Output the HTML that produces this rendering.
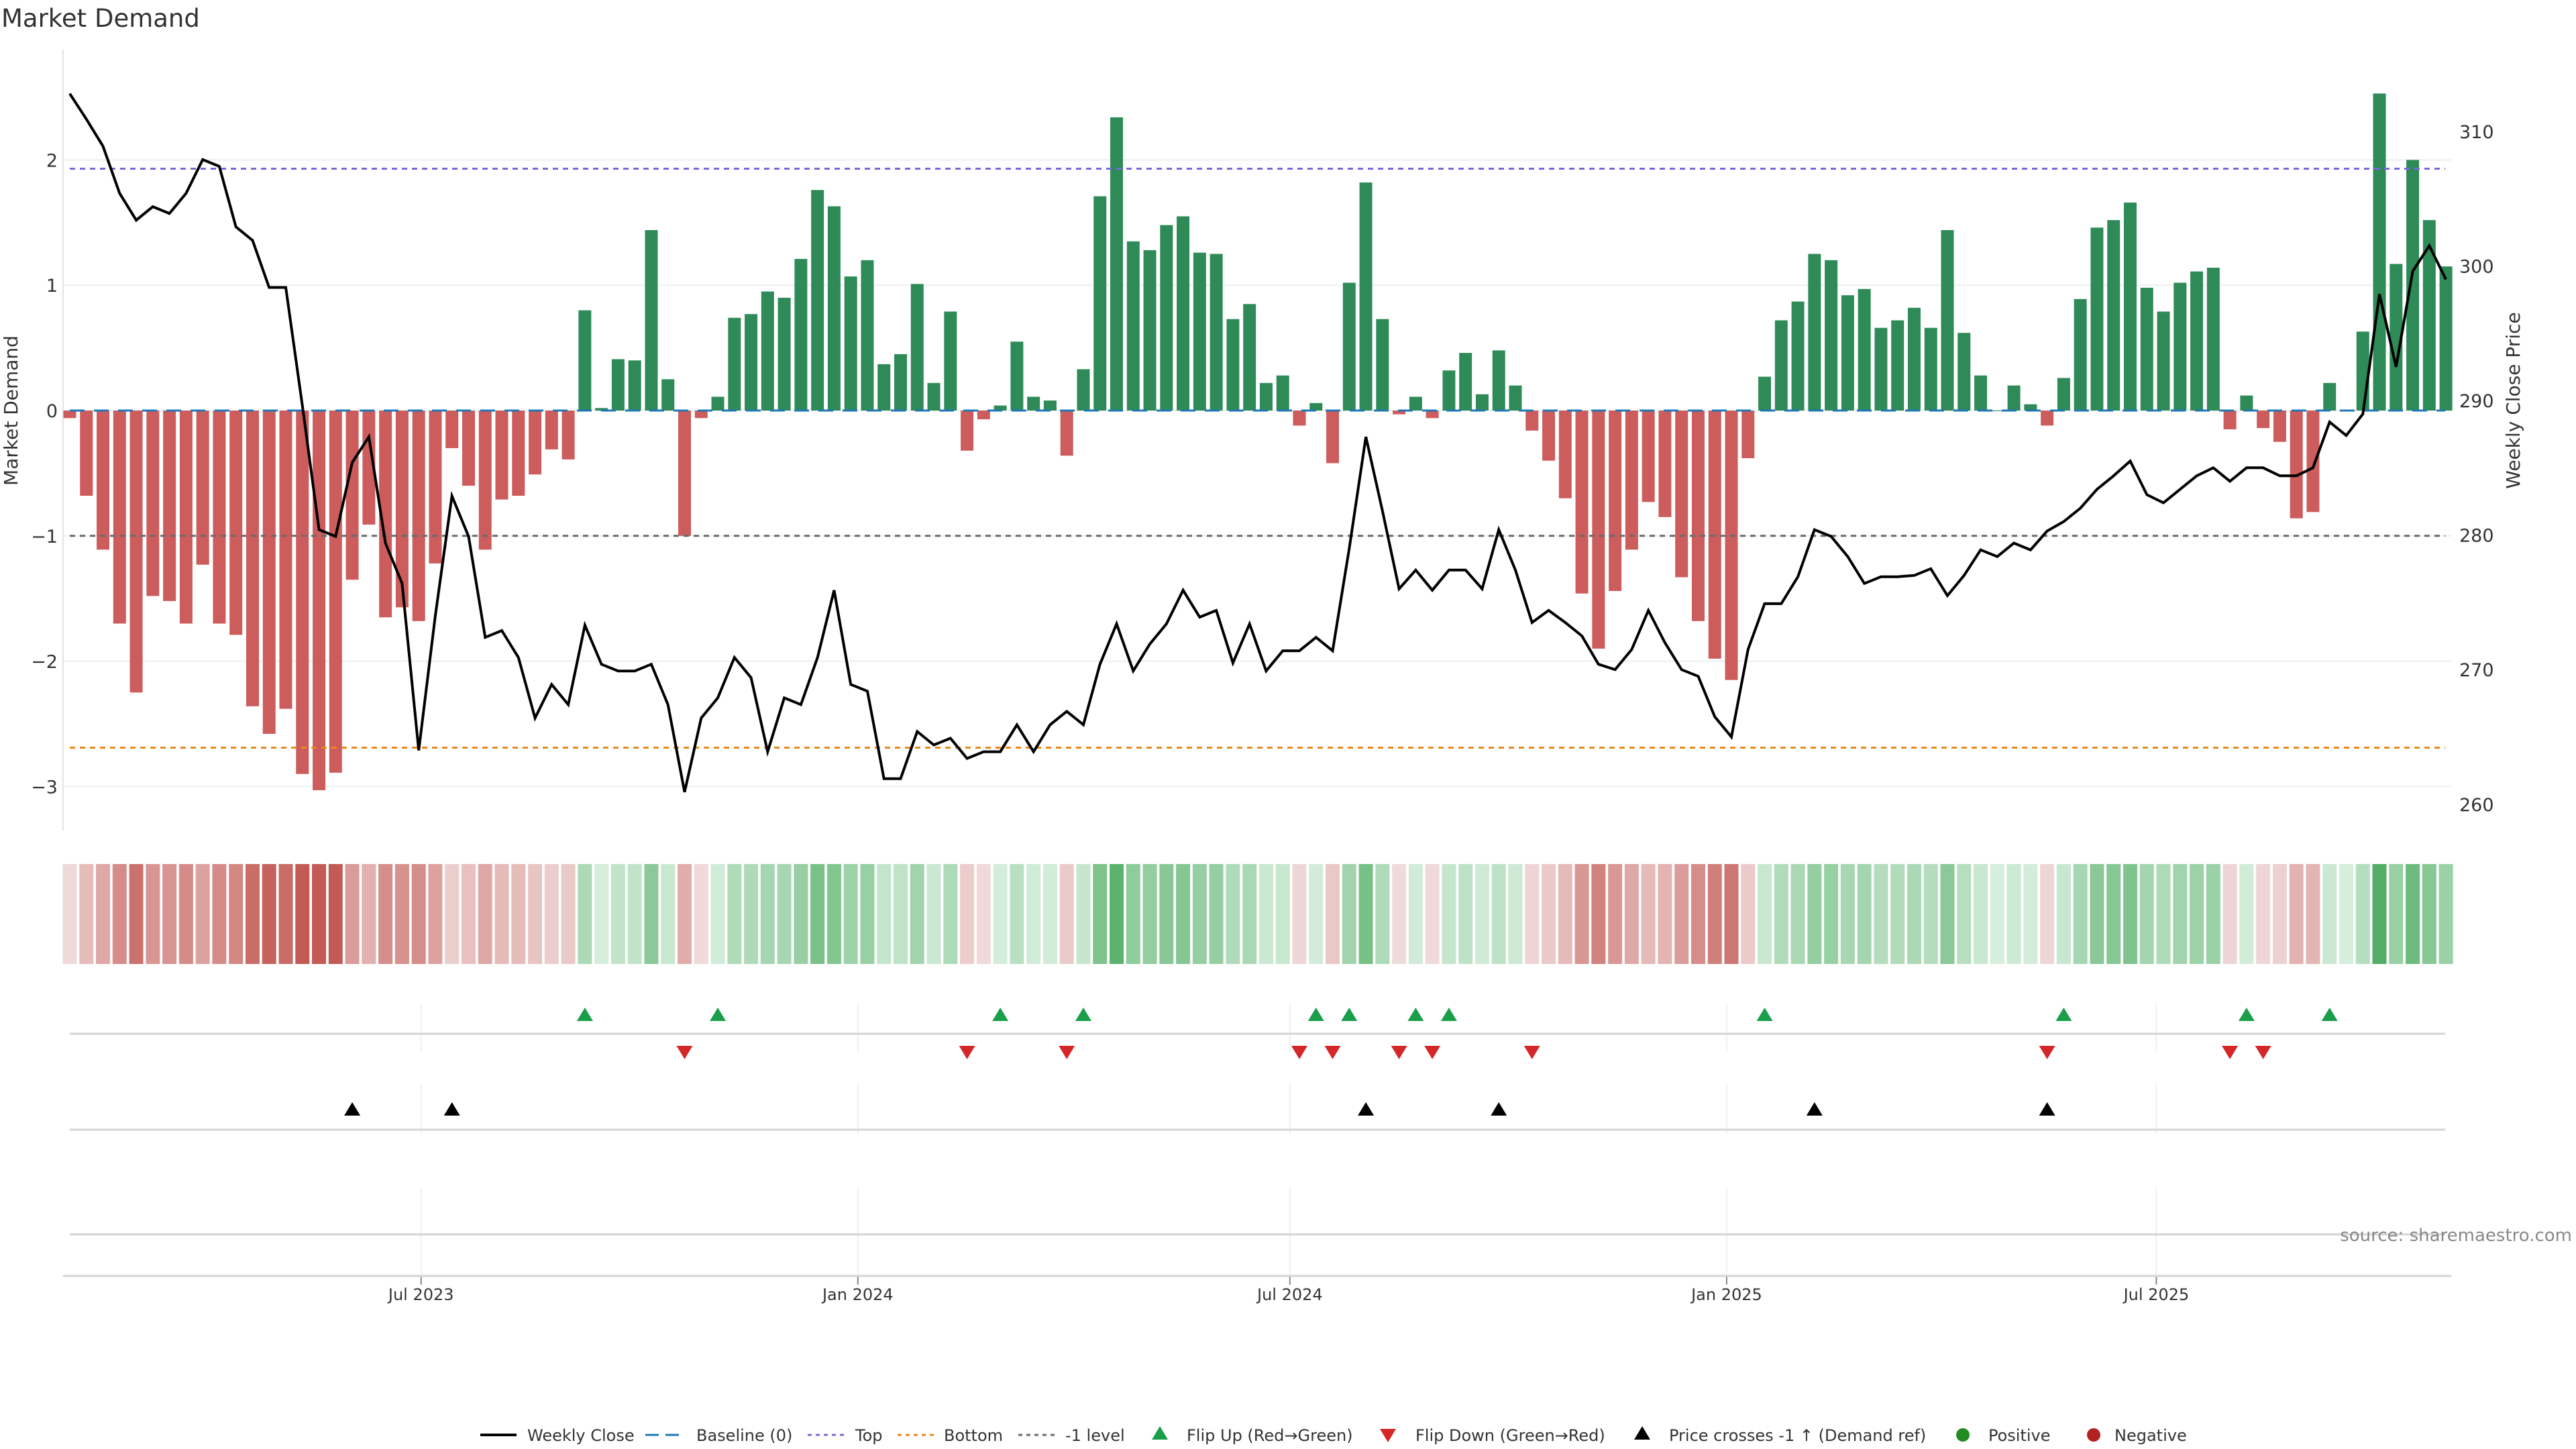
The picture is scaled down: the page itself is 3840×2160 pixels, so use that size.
<!DOCTYPE html>
<html><head><meta charset="utf-8"><title>Market Demand</title>
<style>
html,body{margin:0;padding:0;background:#fff;}
svg{display:block;font-family:"DejaVu Sans","Liberation Sans",sans-serif;}
</style></head>
<body>
<svg id="chart" xmlns="http://www.w3.org/2000/svg" width="3840" height="2160" viewBox="0 0 3840 2160">
<text x="2" y="40" font-size="37" fill="#333">Market Demand</text>
<g id="main"></g>
</svg>
<script>
const startDate = "2023-02-03";
const demand = [-0.06,-0.68,-1.11,-1.70,-2.25,-1.48,-1.52,-1.70,-1.23,-1.70,-1.79,-2.36,-2.58,-2.38,-2.90,-3.03,-2.89,-1.35,-0.91,-1.65,-1.57,-1.68,-1.22,-0.30,-0.60,-1.11,-0.71,-0.68,-0.51,-0.31,-0.39,0.80,0.02,0.41,0.40,1.44,0.25,-1.00,-0.06,0.11,0.74,0.77,0.95,0.90,1.21,1.76,1.63,1.07,1.20,0.37,0.45,1.01,0.22,0.79,-0.32,-0.07,0.04,0.55,0.11,0.08,-0.36,0.33,1.71,2.34,1.35,1.28,1.48,1.55,1.26,1.25,0.73,0.85,0.22,0.28,-0.12,0.06,-0.42,1.02,1.82,0.73,-0.03,0.11,-0.06,0.32,0.46,0.13,0.48,0.20,-0.16,-0.40,-0.70,-1.46,-1.90,-1.44,-1.11,-0.73,-0.85,-1.33,-1.68,-1.98,-2.15,-0.38,0.27,0.72,0.87,1.25,1.20,0.92,0.97,0.66,0.72,0.82,0.66,1.44,0.62,0.28,0.00,0.20,0.05,-0.12,0.26,0.89,1.46,1.52,1.66,0.98,0.79,1.02,1.11,1.14,-0.15,0.12,-0.14,-0.25,-0.86,-0.81,0.22,0.00,0.63,2.53,1.17,2.00,1.52,1.15];
const price = [312.8,310.9,308.9,305.4,303.4,304.4,303.9,305.4,307.9,307.4,302.9,301.9,298.4,298.4,289.6,280.4,279.9,285.4,287.3,279.4,276.4,264.0,274.0,282.9,279.9,272.4,272.9,270.9,266.4,268.9,267.4,273.3,270.4,269.9,269.9,270.4,267.4,260.9,266.4,267.9,270.9,269.4,263.9,267.9,267.4,270.9,275.9,268.9,268.4,261.9,261.9,265.4,264.4,264.9,263.4,263.9,263.9,265.9,263.9,265.9,266.9,265.9,270.4,273.4,269.9,271.9,273.4,275.9,273.9,274.4,270.5,273.4,269.9,271.4,271.4,272.4,271.4,279.0,287.3,281.8,276.0,277.4,275.9,277.4,277.4,276.0,280.4,277.4,273.5,274.4,273.5,272.5,270.4,270.0,271.5,274.4,272.0,270.0,269.5,266.5,265.0,271.5,274.9,274.9,276.9,280.4,279.9,278.4,276.4,276.9,276.9,277.0,277.5,275.5,277.0,278.9,278.4,279.4,278.9,280.3,281.0,282.0,283.4,284.4,285.5,283.0,282.4,283.4,284.4,285.0,284.0,285.0,285.0,284.4,284.4,285.0,288.4,287.4,289.0,297.9,292.5,299.6,301.5,299.0];
const leftTicks = [-3,-2,-1,0,1,2];
const rightTicks = [260,270,280,290,300,310];
const dateTicks = ["2023-07-01","2024-01-01","2024-07-01","2025-01-01","2025-07-01"];
const dateTickLabels = ["Jul 2023","Jan 2024","Jul 2024","Jan 2025","Jul 2025"];
const topLevel = 1.93;
const bottomLevel = -2.69;
const minusOneLevel = -1;

const NS = "http://www.w3.org/2000/svg";
const g = document.getElementById("main");
function mk(tag, attrs, parent){const e=document.createElementNS(NS,tag);for(const k in attrs)e.setAttribute(k,attrs[k]);(parent||g).appendChild(e);return e;}

const X0 = 104, STEP = 24.77;
const DAY = 86400000, t0 = Date.parse(startDate);
function xDate(s){return X0 + (Date.parse(s)-t0)/(7*DAY)*STEP;}
function xIdx(i){return X0 + i*STEP;}
function yL(v){return 612 - v*186.8;}
function yR(p){return 597 - (p-290)*20.06;}
const PL = 94, PR = 3654;

leftTicks.forEach(v=>{
  const l=mk("line",{x1:PL,x2:PR,y1:yL(v),y2:yL(v),stroke:"#eeeeee","stroke-width":2});
  
  
  const t=mk("text",{x:86,y:yL(v)+10,"text-anchor":"end","font-size":27,fill:"#333"});
  t.textContent = v<0 ? "\u2212"+Math.abs(v) : String(v);
  
  
});
rightTicks.forEach(p=>{
  const t=mk("text",{x:3666,y:yR(p)+10,"font-size":27,fill:"#333"});
  t.textContent=String(p);
  
  
});
const spine=mk("line",{x1:PL,x2:PL,y1:74,y2:1238,stroke:"#e4e4e4","stroke-width":2});


const yt=mk("text",{transform:"translate(26,612) rotate(-90)","text-anchor":"middle","font-size":28,fill:"#333"});
yt.textContent="Market Demand";


const yt2=mk("text",{transform:"translate(3756,597) rotate(-90)","text-anchor":"middle","font-size":28,fill:"#333"});
yt2.textContent="Weekly Close Price";



demand.forEach((v,i)=>{
  const y0=yL(0), y1=yL(v);
  const r=mk("rect",{x:xIdx(i)-9.5,y:Math.min(y0,y1),width:19,height:Math.max(1,Math.abs(y1-y0)),fill:v>=0?"#2e8b57":"#cd5c5c"});
  
  
});
function hline(v,color,dash,name,w){
  const l=mk("line",{x1:104,x2:3645,y1:yL(v),y2:yL(v),stroke:color,"stroke-width":w||3,"stroke-dasharray":dash});
  
  
}
hline(0,"#1f77b4","22 14","baseline-line",3);
hline(topLevel,"#7b68d8","8 7","top-level-line",3);
hline(bottomLevel,"#e8891c","8 7","bottom-level-line",3);
hline(minusOneLevel,"#6a6a6a","8 7","minus-one-level-line",3);

const pts=price.map((p,i)=>xIdx(i).toFixed(1)+","+yR(p).toFixed(1)).join(" ");
const pl=mk("polyline",{points:pts,fill:"none",stroke:"#000","stroke-width":4,"stroke-linejoin":"miter"});



const maxAbs=3.03;
demand.forEach((v,i)=>{
  const t=Math.min(1,Math.abs(v)/maxAbs);
  let a,b;
  if(v>=0){a=[214,238,220];b=[70,168,90];}else{a=[241,220,220];b=[195,90,85];}
  const c=a.map((q,k)=>Math.round(q+(b[k]-q)*Math.min(1,t*1.1)));
  const r=mk("rect",{x:xIdx(i)-10.5,y:1288,width:21,height:149,fill:"rgb("+c.join(",")+")"});
  
  
});

dateTicks.forEach((d,k)=>{
  const x=xDate(d);
  [[1496,1568],[1615,1690],[1770,1902]].forEach(s=>{
    const l=mk("line",{x1:x,x2:x,y1:s[0],y2:s[1],stroke:"#eef0f4","stroke-width":2});
    
    
  });
  const tk=mk("line",{x1:x,x2:x,y1:1902,y2:1915,stroke:"#888","stroke-width":2});
  
  
  const t=mk("text",{x:x,y:1938,"text-anchor":"middle","font-size":24,fill:"#333"});
  t.textContent=dateTickLabels[k];
  
  
});
[[1541,104,3645,"flip-row-line"],[1684,104,3645,"cross-row-line"],[1840,104,3645,"empty-row-line"],[1902,94,3654,"x-axis-line"]].forEach(a=>{
  const l=mk("line",{x1:a[1],x2:a[2],y1:a[0],y2:a[0],stroke:"#d4d4d4","stroke-width":3});
  
  
});
function tri(x,y,up,color,name){
  const h=20,w=12;
  const p= up? `${x-w},${y+h/2} ${x+w},${y+h/2} ${x},${y-h/2}` : `${x-w},${y-h/2} ${x+w},${y-h/2} ${x},${y+h/2}`;
  const e=mk("polygon",{points:p,fill:color});
  
  
}
for(let i=1;i<demand.length;i++){
  const prevPos=demand[i-1]>=0, curPos=demand[i]>=0;
  if(!prevPos&&curPos) tri(xIdx(i),1512,true,"#1a9e4a","flip-up-marker");
  if(prevPos&&!curPos) tri(xIdx(i),1569,false,"#d62728","flip-down-marker");
}
const refPrice = 290 + minusOneLevel*10;
for(let i=1;i<price.length;i++){
  if(price[i-1]<refPrice && price[i]>=refPrice) tri(xIdx(i),1653,true,"#000","price-cross-marker");
}
const src=mk("text",{x:3834,y:1850,"text-anchor":"end","font-size":26,fill:"#888"});
src.textContent="source: sharemaestro.com";



const LY=2139;
function ltext(x,s,name){const t=mk("text",{x:x,y:LY+9,"font-size":24,fill:"#333"});t.textContent=s;}
function lline(x,color,dash,w){mk("line",{x1:x,x2:x+54,y1:LY,y2:LY,stroke:color,"stroke-width":w,"stroke-dasharray":dash});}
lline(716,"#000","",4); ltext(786,"Weekly Close","legend-weekly-close");
lline(962,"#1f77b4","20 10",3); ltext(1038,"Baseline (0)","legend-baseline");
lline(1204,"#7b68d8","6 6",3); ltext(1275,"Top","legend-top");
lline(1338,"#e8891c","6 6",3); ltext(1407,"Bottom","legend-bottom");
lline(1518,"#6a6a6a","6 6",3); ltext(1588,"-1 level","legend-minus-one");
tri(1729,LY-3,true,"#1a9e4a","legend-flip-up-icon"); ltext(1769,"Flip Up (Red\u2192Green)","legend-flip-up");
tri(2069,LY+1,false,"#d62728","legend-flip-down-icon"); ltext(2110,"Flip Down (Green\u2192Red)","legend-flip-down");
tri(2448,LY-3,true,"#000","legend-price-cross-icon"); ltext(2488,"Price crosses -1 \u2191 (Demand ref)","legend-price-cross");
mk("circle",{cx:2926,cy:LY,r:10,fill:"#228b22"}); ltext(2964,"Positive","legend-positive");
mk("circle",{cx:3121,cy:LY,r:10,fill:"#b22222"}); ltext(3152,"Negative","legend-negative");
</script>
</body></html>
